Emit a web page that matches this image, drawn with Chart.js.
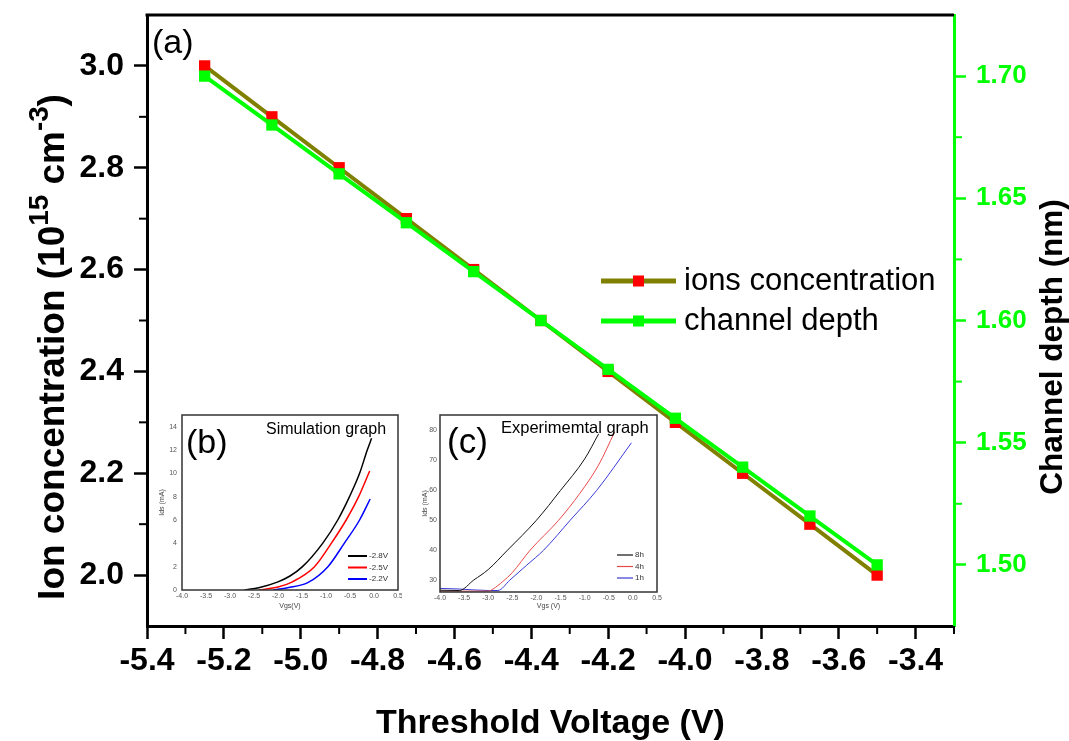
<!DOCTYPE html>
<html>
<head>
<meta charset="utf-8">
<script src="https://cdn.jsdelivr.net/npm/chart.js@4"></script>
<style>
  body { margin: 0; background: #fff; }
  #wrap { position: relative; width: 1069px; height: 741px; }
  #wrap canvas { position: absolute; }
</style>
</head>
<body>
<div id="wrap">
  <canvas id="main" width="1069" height="741" style="left:0;top:0"></canvas>
  <canvas id="simul" width="248" height="202" style="left:154px;top:410px"></canvas>
  <canvas id="exper" width="247" height="202" style="left:415px;top:410px"></canvas>
</div>
<script>
const FONT = 'Liberation Sans, Arial, sans-serif';

// panel (a)
const thresholdV = [-5.25, -5.075, -4.9, -4.725, -4.55, -4.375, -4.2, -4.025, -3.85, -3.675, -3.5];
const ionConc = [3.0, 2.9, 2.8, 2.7, 2.6, 2.5, 2.4, 2.3, 2.2, 2.1, 2.0];
const chanDepth = [1.70, 1.68, 1.66, 1.64, 1.62, 1.60, 1.58, 1.56, 1.54, 1.52, 1.50];
const xTicksA = [-5.4, -5.2, -5.0, -4.8, -4.6, -4.4, -4.2, -4.0, -3.8, -3.6, -3.4];
const ionTicks = [2.0, 2.2, 2.4, 2.6, 2.8, 3.0];
const depthTicks = [1.50, 1.55, 1.60, 1.65, 1.70];

// inset (b) simulation
const simLabels = ['-2.8V', '-2.5V', '-2.2V'];
const simVgs28 = [-2.7, -2.4, -2.0, -1.75, -1.49, -1.07, -0.755, -0.51, -0.30, -0.14, -0.05];
const simIds28 = [0, 0.2, 0.7, 1.2, 2, 4, 6, 8, 10, 12, 13];
const simVgs25 = [-2.4, -2.0, -1.7, -1.24, -0.89, -0.58, -0.32, -0.09];
const simIds25 = [0, 0.25, 0.7, 2, 4, 6, 8, 10.2];
const simVgs22 = [-2.1, -1.8, -1.38, -0.96, -0.62, -0.30, -0.08];
const simIds22 = [0, 0.2, 0.63, 2, 4, 6, 7.8];
const vgsTicks = [-4.0, -3.5, -3.0, -2.5, -2.0, -1.5, -1.0, -0.5, 0.0, 0.5];
const simIdsTicks = [0, 2, 4, 6, 8, 10, 12, 14];

// inset (c) experimental
const expLabels = ['8h', '4h', '1h'];
const expVgs8 = [-4.0, -3.6, -3.3, -3.0, -2.6, -2.0, -1.5, -1.0, -0.71];
const expIds8 = [26.6, 26.5, 30, 33.5, 40, 50, 60, 70.5, 78.9];
const expVgs4 = [-4.0, -3.0, -2.9, -2.7, -2.5, -2.13, -1.54, -1.1, -0.71, -0.38];
const expIds4 = [26.3, 26.3, 27, 29.5, 32.5, 40, 50, 59, 68.5, 79.5];
const expVgs1 = [-4.0, -3.6, -3.0, -2.8, -2.55, -2.2, -1.85, -1.3, -0.75, -0.03];
const expIds1 = [27.2, 27, 26.5, 26.5, 30, 35, 40, 50, 60, 75.9];
const expIdsTicks = [30, 40, 50, 60, 70, 80];

const pts = (xs, ys) => xs.map((x, i) => ({ x: x, y: ys[i] }));
const mids = arr => arr.slice(1).map((v, i) => (v + arr[i]) / 2);
const setTicks = list => (sc => { sc.ticks = list.map(v => ({ value: v })); });

// text drawn straight on the canvas (labels, rotated titles with superscripts)
const textBits = {
  id: 'textBits',
  afterDraw(chart, args, o) {
    const ctx = chart.ctx;
    ctx.save();
    (o.texts || []).forEach(t => {
      ctx.font = t.font;
      ctx.fillStyle = t.color || '#000';
      ctx.textBaseline = 'alphabetic';
      ctx.fillText(t.text, t.x, t.y);
    });
    (o.rotated || []).forEach(t => {
      const sup = t.size * 0.75;
      const f1 = 'bold ' + t.size + 'px ' + FONT, f2 = 'bold ' + sup + 'px ' + FONT;
      let w = 0;
      t.parts.forEach(p => { ctx.font = p[1] ? f2 : f1; w += ctx.measureText(p[0]).width; });
      ctx.save();
      ctx.translate(t.x, t.y);
      ctx.rotate(-Math.PI / 2);
      ctx.fillStyle = t.color || '#000';
      ctx.textBaseline = 'alphabetic';
      let x = -w / 2;
      t.parts.forEach(p => {
        ctx.font = p[1] ? f2 : f1;
        ctx.fillText(p[0], x, p[1] ? -t.size * 0.42 : 0);
        x += ctx.measureText(p[0]).width;
      });
      ctx.restore();
    });
    ctx.restore();
  }
};

const legendBox = {
  id: 'legendBox',
  afterDatasetsDraw(chart, args, o) {
    if (!o.font) return;
    const ctx = chart.ctx;
    ctx.save();
    ctx.font = o.font;
    ctx.textBaseline = 'middle';
    chart.data.datasets.forEach((ds, i) => {
      const y = o.y + i * o.dy;
      ctx.strokeStyle = ds.borderColor;
      ctx.lineWidth = o.lineWidth || ds.borderWidth;
      ctx.beginPath();
      ctx.moveTo(o.x, y);
      ctx.lineTo(o.x + o.len, y);
      ctx.stroke();
      if (o.marker) {
        ctx.fillStyle = ds.pointBackgroundColor;
        ctx.fillRect(o.x + o.len / 2 - o.marker / 2, y - o.marker / 2, o.marker, o.marker);
      }
      ctx.fillStyle = o.color || '#000';
      ctx.fillText(ds.label, o.x + o.len + o.gap, y + (o.shift || 0));
    });
    ctx.restore();
  }
};

const frameAndMinor = {
  id: 'frameAndMinor',
  afterDraw(chart, args, o) {
    const ctx = chart.ctx, a = chart.chartArea;
    ctx.save();
    if (o.box) {
      ctx.strokeStyle = o.box;
      ctx.lineWidth = o.boxWidth;
      ctx.strokeRect(a.left, a.top, a.right - a.left, a.bottom - a.top);
    }
    if (o.topLine) {
      ctx.strokeStyle = o.topLine;
      ctx.lineWidth = 3;
      ctx.beginPath();
      ctx.moveTo(a.left - 1.5, a.top);
      ctx.lineTo(a.right, a.top);
      ctx.stroke();
    }
    (o.minor || []).forEach(m => {
      const sc = chart.scales[m.axis];
      ctx.strokeStyle = m.color;
      ctx.lineWidth = 2;
      m.values.forEach(v => {
        const p = sc.getPixelForValue(v);
        ctx.beginPath();
        if (m.axis === 'x') { ctx.moveTo(p, a.bottom); ctx.lineTo(p, a.bottom + m.len); }
        else if (sc.position === 'left') { ctx.moveTo(a.left, p); ctx.lineTo(a.left - m.len, p); }
        else { ctx.moveTo(a.right, p); ctx.lineTo(a.right + m.len, p); }
        ctx.stroke();
      });
    });
    ctx.restore();
  }
};

Chart.register(textBits, legendBox, frameAndMinor);

const boldTick = size => ({ family: FONT, size: size, weight: 'bold' });

// ---- panel (a)
new Chart(document.getElementById('main'), {
  type: 'line',
  data: {
    datasets: [
      {
        label: 'ions concentration',
        data: pts(thresholdV, ionConc),
        yAxisID: 'y',
        borderColor: '#808000',
        backgroundColor: '#ff0000',
        pointBackgroundColor: '#ff0000',
        pointBorderColor: '#ff0000',
        borderWidth: 4,
        pointStyle: 'rect',
        pointRadius: 8,
        pointBorderWidth: 0,
        order: 1
      },
      {
        label: 'channel depth',
        data: pts(thresholdV, chanDepth),
        yAxisID: 'y2',
        borderColor: '#00ff00',
        backgroundColor: '#00ff00',
        pointBackgroundColor: '#00ff00',
        pointBorderColor: '#00ff00',
        borderWidth: 4,
        pointStyle: 'rect',
        pointRadius: 8,
        pointBorderWidth: 0,
        order: 0
      }
    ]
  },
  options: {
    responsive: false,
    animation: false,
    layout: { padding: { top: 15, left: 0, right: 0, bottom: 0 } },
    plugins: {
      legend: { display: false },
      tooltip: { enabled: false },
      legendBox: { x: 601, y: 281, dy: 40, len: 75, gap: 8, marker: 11, lineWidth: 5, shift: 0, font: '31px ' + FONT },
      frameAndMinor: {
        topLine: '#000',
        minor: [
          { axis: 'x', values: mids(xTicksA).concat([-3.3]), len: 8, color: '#000' },
          { axis: 'y', values: mids(ionTicks), len: 8, color: '#000' },
          { axis: 'y2', values: mids(depthTicks), len: 8, color: '#00ff00' }
        ]
      },
      textBits: {
        texts: [{ text: '(a)', x: 152, y: 53, font: '34px ' + FONT }],
        rotated: [
          { x: 64, y: 347, size: 37, parts: [['Ion concentration (10', 0], ['15', 1], [' cm', 0], ['-3', 1], [')', 0]] },
          { x: 1062, y: 347, size: 31.5, parts: [['Channel depth (nm)', 0]] }
        ]
      }
    },
    scales: {
      x: {
        type: 'linear',
        min: -5.4,
        max: -3.3,
        afterBuildTicks: setTicks(xTicksA),
        afterFit: s => { s.height = 115; s.paddingLeft = 0; s.paddingRight = 0; },
        ticks: { font: boldTick(32), color: '#000', padding: 3, maxRotation: 0, autoSkip: false, callback: v => v.toFixed(1) },
        grid: { drawOnChartArea: false, tickLength: 13, tickWidth: 2.5, tickColor: '#000' },
        border: { color: '#000', width: 3 },
        title: { display: true, text: 'Threshold Voltage (V)', color: '#000', font: { family: FONT, size: 34, weight: 'bold', lineHeight: 1 }, padding: { top: 0, bottom: 0 } }
      },
      y: {
        position: 'left',
        min: 1.9,
        max: 3.1,
        afterBuildTicks: setTicks(ionTicks),
        afterFit: s => { s.width = 147; s.paddingTop = 0; s.paddingBottom = 0; },
        ticks: { font: boldTick(32), color: '#000', padding: 10, callback: v => v.toFixed(1) },
        grid: { drawOnChartArea: false, tickLength: 13, tickWidth: 2.5, tickColor: '#000' },
        border: { color: '#000', width: 3 }
      },
      y2: {
        position: 'right',
        min: 1.475,
        max: 1.725,
        afterBuildTicks: setTicks(depthTicks),
        afterFit: s => { s.width = 115; s.paddingTop = 0; s.paddingBottom = 0; },
        ticks: { font: boldTick(26), color: '#00ff00', padding: 10, callback: v => v.toFixed(2) },
        grid: { drawOnChartArea: false, tickLength: 12, tickWidth: 2.5, tickColor: '#00ff00' },
        border: { color: '#00ff00', width: 3 }
      }
    }
  }
});

// ---- insets
function insetScales(o) {
  const small = { family: FONT, size: 7 };
  return {
    x: {
      type: 'linear',
      min: -4.0,
      max: 0.5,
      afterBuildTicks: setTicks(vgsTicks),
      afterFit: s => { s.height = o.xh; s.paddingLeft = 0; s.paddingRight = 0; },
      ticks: { font: small, color: '#555', padding: 2, maxRotation: 0, autoSkip: false, callback: v => v.toFixed(1) },
      grid: { display: false, drawTicks: false },
      border: { display: false },
      title: { display: true, text: o.xTitle, color: '#444', font: small, padding: { top: 0, bottom: 2 } }
    },
    y: {
      min: o.ymin,
      max: o.ymax,
      afterBuildTicks: setTicks(o.yTicks),
      afterFit: s => { s.width = o.yw; s.paddingTop = 0; s.paddingBottom = 0; },
      ticks: { font: small, color: '#555', padding: o.ypad, autoSkip: false },
      grid: { display: false, drawTicks: false },
      border: { display: false },
      title: { display: true, text: 'Ids (mA)', color: '#444', font: small, padding: { top: o.ytp, bottom: 0 } }
    }
  };
}

function curve(label, xs, ys, color, w) {
  return { label: label, data: pts(xs, ys), borderColor: color, borderWidth: w, pointRadius: 0, cubicInterpolationMode: 'monotone', fill: false };
}

new Chart(document.getElementById('simul'), {
  type: 'line',
  data: {
    datasets: [
      curve(simLabels[0], simVgs28, simIds28, '#000000', 1.5),
      curve(simLabels[1], simVgs25, simIds25, '#ff0000', 1.5),
      curve(simLabels[2], simVgs22, simIds22, '#0000ff', 1.5)
    ]
  },
  options: {
    responsive: false,
    animation: false,
    layout: { padding: { top: 5, right: 4, left: 0, bottom: 0 } },
    plugins: {
      legend: { display: false },
      tooltip: { enabled: false },
      legendBox: { x: 194, y: 146, dy: 11.5, len: 19, gap: 2, lineWidth: 2, font: '8px ' + FONT, color: '#333' },
      frameAndMinor: { box: '#333', boxWidth: 1.5 },
      textBits: {
        texts: [
          { text: '(b)', x: 32, y: 43, font: '34px ' + FONT },
          { text: 'Simulation graph', x: 112, y: 24, font: '16px ' + FONT }
        ]
      }
    },
    scales: insetScales({ xh: 22, yw: 28, ymin: 0, ymax: 15, yTicks: simIdsTicks, ypad: 5, ytp: 4, xTitle: 'Vgs(V)' })
  }
});

new Chart(document.getElementById('exper'), {
  type: 'line',
  data: {
    datasets: [
      curve(expLabels[0], expVgs8, expIds8, '#111111', 1),
      curve(expLabels[1], expVgs4, expIds4, '#e84a4a', 1),
      curve(expLabels[2], expVgs1, expIds1, '#3a3ad8', 1)
    ]
  },
  options: {
    responsive: false,
    animation: false,
    layout: { padding: { top: 5, right: 5, left: 0, bottom: 0 } },
    plugins: {
      legend: { display: false },
      tooltip: { enabled: false },
      legendBox: { x: 202, y: 145, dy: 11.5, len: 16, gap: 2, lineWidth: 1.2, font: '8px ' + FONT, color: '#333' },
      frameAndMinor: { box: '#333', boxWidth: 1.5 },
      textBits: {
        texts: [
          { text: '(c)', x: 32, y: 43, font: '35px ' + FONT },
          { text: 'Experimemtal graph', x: 86, y: 23, font: '16.5px ' + FONT }
        ]
      }
    },
    scales: insetScales({ xh: 20, yw: 25, ymin: 26, ymax: 85.2, yTicks: expIdsTicks, ypad: 3, ytp: 6, xTitle: 'Vgs (V)' })
  }
});
</script>
</body>
</html>
